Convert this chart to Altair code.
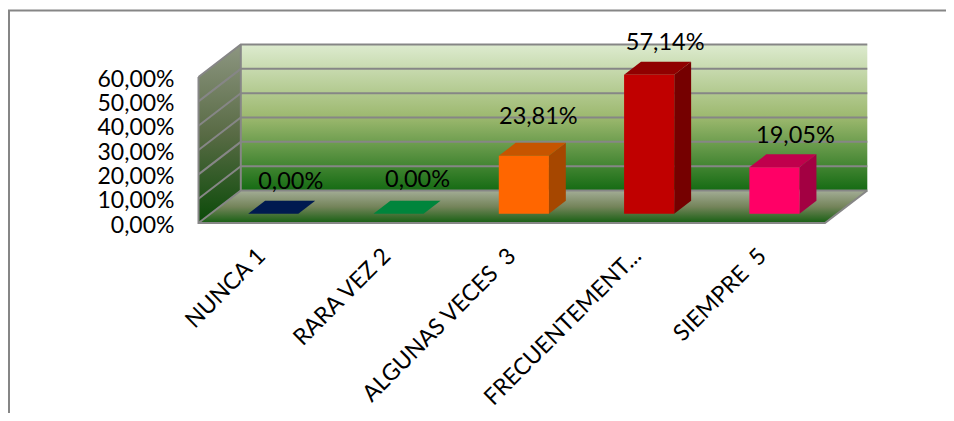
import altair as alt
import pandas as pd

categories = ["NUNCA 1", "RARA VEZ 2", "ALGUNAS VECES\u00a0\u00a03", "FRECUENTEMENT...", "SIEMPRE\u00a0\u00a05"]
values = [0.0, 0.0, 23.81, 57.14, 19.05]
labels = ["0,00%", "0,00%", "23,81%", "57,14%", "19,05%"]
ticks = [0, 10, 20, 30, 40, 50, 60]

front_colors = ["#002060", "#00853c", "#ff6600", "#c00000", "#ff0066"]
top_colors = ["#001a50", "#00853c", "#c65500", "#900000", "#c0004c"]
side_colors = ["#001030", "#006030", "#a64700", "#750000", "#a30042"]

W, H = 938, 405
UX, UY = 125.3, 2.433          # pixels per category / per percent
X0, Y0 = 190.5, 215            # plot pixels of category 0 / value 0
x_dom = [-X0 / UX, (W - X0) / UX]
y_dom = [-(H - Y0) / UY, Y0 / UY]
DX, DY = 42.3 / UX, 32.5 / UY  # box depth
N = len(categories)
TOP = ticks[-1]

xs = alt.Scale(domain=x_dom, nice=False, zero=False)
ys = alt.Scale(domain=y_dom, nice=False, zero=False)
GRID = "#868686"
FONT = "Lato"


def grad(*stops):
    return alt.Gradient(gradient="linear", x1=0, x2=0, y1=0, y2=1,
                        stops=[alt.GradientStop(color=c, offset=o) for o, c in stops])


X = alt.X("x:Q", scale=xs, axis=None, stack=None)
Y = alt.Y("y:Q", scale=ys, axis=None, stack=None)

# back wall
back = alt.Chart(pd.DataFrame([{"x": DX, "x2": N + DX, "y": DY, "y2": TOP + DY}])).mark_rect(
    fill=grad((0, "#ddebcf"), (0.5, "#9cb86e"), (1, "#156b13"))
).encode(X, Y, x2="x2:Q", y2="y2:Q")

# left wall
left = alt.Chart(pd.DataFrame([
    {"x": 0, "y": 0, "y2": TOP},
    {"x": DX, "y": DY, "y2": TOP + DY},
])).mark_area(
    fill=grad((0, "#8d9681"), (0.5, "#596b45"), (1, "#0a4a08"))
).encode(X, Y, y2="y2:Q")

# floor
floor = alt.Chart(pd.DataFrame([
    {"x": DX, "x2": N + DX, "y": DY},
    {"x": 0, "x2": N, "y": 0},
])).mark_area(
    orient="horizontal",
    fill=grad((0, "#a3ad96"), (0.5, "#74845a"), (1, "#165f12"))
).encode(X, Y, x2="x2:Q")

# gridlines, on the left wall and the back wall
grid_rows = []
for t in ticks:
    grid_rows += [{"x": 0, "y": t, "k": t, "o": 0},
                  {"x": DX, "y": t + DY, "k": t, "o": 1},
                  {"x": N + DX, "y": t + DY, "k": t, "o": 2}]
grid = alt.Chart(pd.DataFrame(grid_rows)).mark_line(color=GRID, strokeWidth=2).encode(
    X, Y, detail="k:N", order="o:Q")

# box edges
edge_rows = [
    {"x": 0, "y": TOP, "k": 0, "o": 0}, {"x": 0, "y": 0, "k": 0, "o": 1},
    {"x": N, "y": 0, "k": 0, "o": 2}, {"x": N + DX, "y": DY, "k": 0, "o": 3},
    {"x": DX, "y": DY, "k": 1, "o": 0}, {"x": DX, "y": TOP + DY, "k": 1, "o": 1},
]
edges = alt.Chart(pd.DataFrame(edge_rows)).mark_line(color=GRID, strokeWidth=2).encode(
    X, Y, detail="k:N", order="o:Q")

# bars
BW, BO, D1, D2 = 0.4, 0.3, 0.286, 0.686
bar_layers = []
for i, v in enumerate(values):
    xl = i + BO + D1 * DX
    yb = D1 * DY
    dx, dy = (D2 - D1) * DX, (D2 - D1) * DY
    side_df = pd.DataFrame([
        {"x": xl + BW, "y": yb, "y2": yb + v},
        {"x": xl + BW + dx, "y": yb + dy, "y2": yb + dy + v},
    ])
    top_df = pd.DataFrame([
        {"x": xl + dx, "x2": xl + dx + BW, "y": yb + dy + v},
        {"x": xl, "x2": xl + BW, "y": yb + v},
    ])
    front_df = pd.DataFrame([{"x": xl, "x2": xl + BW, "y": yb, "y2": yb + v}])
    if v > 0:
        bar_layers.append(alt.Chart(side_df).mark_area(fill=side_colors[i]).encode(X, Y, y2="y2:Q"))
    bar_layers.append(alt.Chart(top_df).mark_area(orient="horizontal", fill=top_colors[i]).encode(X, Y, x2="x2:Q"))
    if v > 0:
        bar_layers.append(alt.Chart(front_df).mark_rect(fill=front_colors[i]).encode(X, Y, x2="x2:Q", y2="y2:Q"))

# value labels
nudges = [(17.5, -32), (19, -33.5), (14.5, -39), (16, -32), (21, -31)]
label_layers = []
for i, (v, lab) in enumerate(zip(values, labels)):
    row = {"x": i + BO + D1 * DX + BW / 2, "y": D1 * DY + v, "t": lab}
    label_layers.append(
        alt.Chart(pd.DataFrame([row])).mark_text(
            font=FONT, fontSize=23.5, color="black", dx=nudges[i][0], dy=nudges[i][1]
        ).encode(X, Y, text="t:N")
    )

# axes
name_expr = "[" + ",".join("'" + c + "'" for c in categories) + "][floor(datum.value)]"
axes = alt.Chart(pd.DataFrame([{"x": 0, "y": 0}])).mark_point(opacity=0).encode(
    x=alt.X("x:Q", scale=xs, title=None, axis=alt.Axis(
        values=[i + 0.5 for i in range(N)], labelExpr=name_expr, labelAngle=315,
        labelAlign="right", labelBaseline="middle", labelFont=FONT, labelFontSize=23,
        labelColor="black", labelOverlap=False, labelPadding=29, labelLimit=400, labelOffset=0,
        offset=-(H - Y0), domain=False, ticks=False, grid=False, labelBound=False, labelFlush=False)),
    y=alt.Y("y:Q", scale=ys, title=None, axis=alt.Axis(
        values=ticks, labelExpr="replace(format(datum.value, '.2f'), '.', ',') + '%'",
        labelFont=FONT, labelFontSize=23, labelColor="black", labelOverlap=False,
        labelPadding=0, labelOffset=2, offset=-166, domain=False, ticks=False, grid=False,
        labelBound=False, labelFlush=False)),
)

# outer frame
one = pd.DataFrame({"a": [0]})
frame_v = alt.Chart(one).mark_rule(color=GRID, strokeWidth=2).encode(
    x=alt.value(1), y=alt.value(2), y2=alt.value(H))
frame_h = alt.Chart(one).mark_rule(color=GRID, strokeWidth=2).encode(
    x=alt.value(0), x2=alt.value(W), y=alt.value(2.5))

chart = alt.layer(
    frame_v, frame_h, back, left, floor, grid, edges, *bar_layers, axes, *label_layers
).resolve_axis(x="independent", y="independent").properties(
    width=W, height=H, padding=0,
    autosize=alt.AutoSizeParams(type="none"),
    background="white",
).configure_view(stroke=None)

chart.save("out.html", embed_options={"renderer": "svg", "actions": False})
